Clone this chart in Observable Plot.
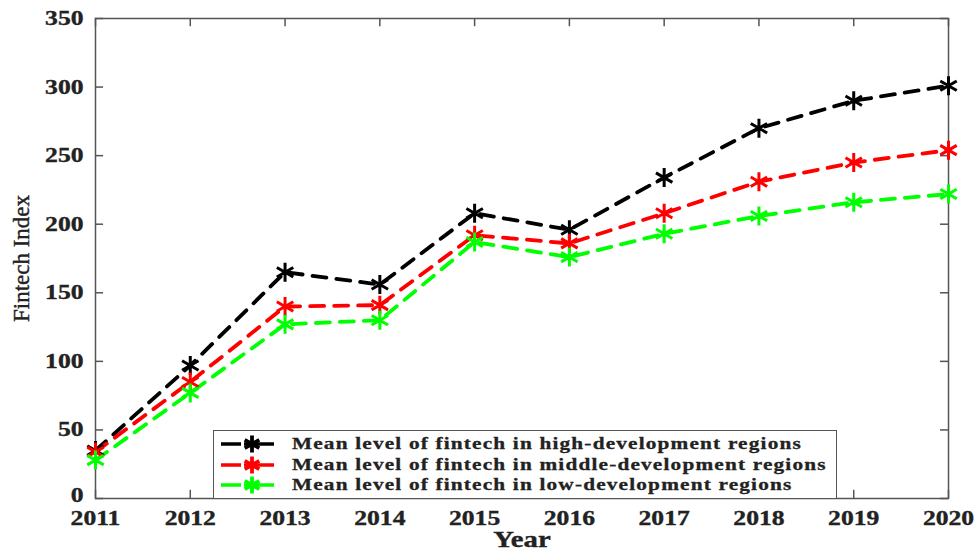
<!DOCTYPE html>
<html><head><meta charset="utf-8">
<script src="https://cdn.jsdelivr.net/npm/d3@7"></script>
<script src="https://cdn.jsdelivr.net/npm/@observablehq/plot@0.6"></script>
<style>
body{margin:0;background:#fff;}
#wrap{position:relative;width:976px;height:551px;overflow:hidden;font-family:"Liberation Serif","Times New Roman",serif;}
#wrap svg text{font-family:"Liberation Serif","Times New Roman",serif;font-weight:bold;fill:#222;stroke:#222;stroke-width:0.35px;}
#wrap svg g[aria-label="y-axis label"] text{font-weight:normal;font-size:23px;stroke-width:0.4px;}
#wrap svg g[aria-label="x-axis label"] text{font-size:23px;}
#legend{position:absolute;left:213px;top:430px;width:622px;height:64px;border:1.5px solid #555;background:#fff;padding-top:3px;}
.row{display:flex;align-items:center;height:20.5px;}
.row svg{margin-left:5px;flex:none;}
.row span{display:inline-block;margin-left:17px;font-weight:bold;font-size:17px;letter-spacing:0.95px;color:#222;white-space:nowrap;transform:scaleX(1.25);transform-origin:0 50%;-webkit-text-stroke:0.3px #222;}
</style>
</head><body>
<div id="wrap"></div>
<script>
const years = [2011, 2012, 2013, 2014, 2015, 2016, 2017, 2018, 2019, 2020];
const highDev = [35, 97, 165, 156, 208, 196, 234, 270, 290, 301];
const middleDev = [34, 85, 140, 141, 192, 186, 208, 231, 245, 254];
const lowDev = [28, 77, 127, 130, 187, 176, 193, 206, 216, 222];
const seriesNames = [
  "Mean level of fintech in high-development regions",
  "Mean level of fintech in middle-development regions",
  "Mean level of fintech in low-development regions"
];
const seriesColors = ["#000000", "#ff0000", "#00ff00"];
const yTicks = [0, 50, 100, 150, 200, 250, 300, 350];

const seriesValues = [highDev, middleDev, lowDev];
const data = [];
seriesValues.forEach((vals, i) => vals.forEach((v, j) => data.push({series: seriesNames[i], year: years[j], value: v})));

const tickLenY = 6;      // data units (~8px)
const tickLenX = 0.085;  // data units (~8px)

const chart = Plot.plot({
  width: 976,
  height: 551,
  marginLeft: 95,
  marginRight: 28,
  marginTop: 18,
  marginBottom: 53,
  x: {domain: [2011, 2020]},
  y: {domain: [0, 350]},
  color: {domain: seriesNames, range: seriesColors},
  marks: [
    Plot.ruleX(years, {x: d => d, y1: 0, y2: tickLenY, stroke: "#555", strokeWidth: 1.5}),
    Plot.ruleX(years, {x: d => d, y1: 350 - tickLenY, y2: 350, stroke: "#555", strokeWidth: 1.5}),
    Plot.ruleY(yTicks, {y: d => d, x1: 2011, x2: 2011 + tickLenX, stroke: "#555", strokeWidth: 1.5}),
    Plot.ruleY(yTicks, {y: d => d, x1: 2020 - tickLenX, x2: 2020, stroke: "#555", strokeWidth: 1.5}),
    Plot.frame({stroke: "#555", strokeWidth: 1.5}),
    Plot.axisX({ticks: years, tickSize: 0, tickPadding: 12, tickFormat: d => String(d), fontSize: 20.5,
      label: "Year", labelAnchor: "center", labelArrow: "none", labelOffset: 48}),
    Plot.axisY({ticks: yTicks.slice(1), tickSize: 0, tickPadding: 12, fontSize: 20.5,
      label: "Fintech Index", labelAnchor: "center", labelArrow: "none", labelOffset: 83}),
    Plot.axisY({ticks: yTicks.slice(0, 1), tickSize: 0, tickPadding: 12, fontSize: 20.5, dy: -3, label: null}),
    Plot.line(data, {x: "year", y: "value", z: "series", stroke: "series", strokeWidth: 3.8, strokeDasharray: "14,10"}),
    Plot.dot(data, {x: "year", y: "value", stroke: "series", symbol: "asterisk", r: 9, strokeWidth: 3})
  ]
});
const wrap = document.getElementById("wrap");
wrap.appendChild(chart);

// emulate the horizontally stretched lettering of the reference
function stretch(sel, s) {
  chart.querySelectorAll(sel).forEach(t => {
    const w = t.getComputedTextLength();
    if (w > 0) {
      t.setAttribute("textLength", (w * s).toFixed(2));
      t.setAttribute("lengthAdjust", "spacingAndGlyphs");
    }
  });
}
stretch('g[aria-label="x-axis tick label"] text', 1.25);
stretch('g[aria-label="y-axis tick label"] text', 1.25);
stretch('g[aria-label="x-axis label"] text', 1.25);

// legend
const legend = document.createElement("div");
legend.id = "legend";
const starPath = d3.symbol(d3.symbolAsterisk, 200)();
seriesNames.forEach((name, i) => {
  const row = document.createElement("div");
  row.className = "row";
  const c = seriesColors[i];
  row.innerHTML = `<svg width="56" height="20"><line x1="2" x2="55" y1="10" y2="10" stroke="${c}" stroke-width="3.5" stroke-dasharray="20,3,40"/><path d="${starPath}" transform="translate(33,10)" stroke="${c}" stroke-width="3.8" fill="none"/></svg><span>${name}</span>`;
  legend.appendChild(row);
});
wrap.appendChild(legend);
</script>
</body></html>
